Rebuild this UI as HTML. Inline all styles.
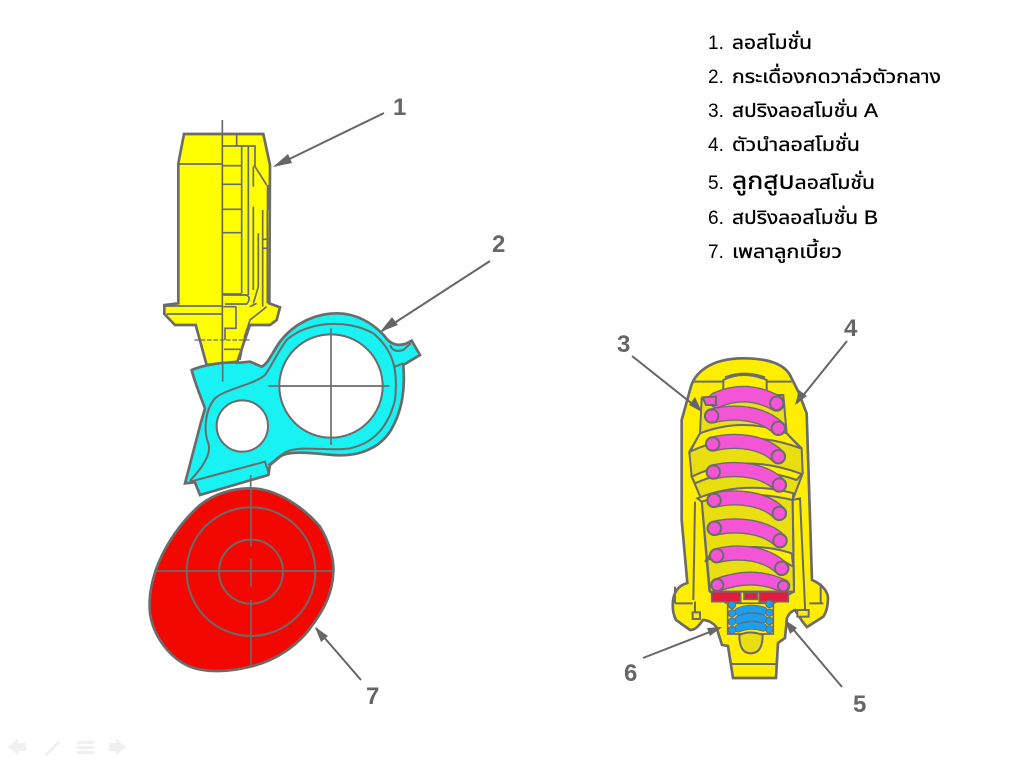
<!DOCTYPE html>
<html><head><meta charset="utf-8"><style>
html,body{margin:0;padding:0;background:#fff;width:1024px;height:768px;overflow:hidden}
svg{display:block}
.t{font-family:"Liberation Sans","Noto Sans Thai","Loma","Garuda","DejaVu Sans",sans-serif;font-size:19px;fill:#000;stroke:#000;stroke-width:.3px}
.d{font-family:"Liberation Sans",sans-serif;font-size:19px;fill:#000}
.n{font-family:"Liberation Sans",sans-serif;font-size:24px;font-weight:bold;fill:#666}
</style></head><body>
<svg width="1024" height="768" viewBox="0 0 1024 768" xmlns="http://www.w3.org/2000/svg">
<rect width="1024" height="768" fill="#fff"/>

<!-- Lifter -->
<g transform="translate(130,90) scale(.33333)" fill="none" stroke="#6b6b6b" stroke-width="6">
<path fill="#ffff00" stroke-width="8" d="M162,132 L400,132 L420,225 L418,640 L450,652 L440,690 L420,705 L360,705 L322,815 L230,825 L197,705 L135,705 L103,672 L103,645 L145,640 L145,220 Z"/>
<path stroke-width="5" d="M277,90 V850 M148,222 H277 M105,648 H275 M110,672 H275 M277,168 H375 V230 M320,135 V168 M277,227 H335 M277,283 H335 M277,358 H335 M277,428 H335 M277,612 H335 M372,225 L410,285 M335,170 V610 M355,170 V615 M370,230 V290 M370,350 V600 M385,430 V590 L370,640 M398,360 V650 M412,360 V640 M398,448 H415 M398,475 H415 M280,615 H350 Q365,625 350,642 H285 M318,650 V715 H285 V750 M360,650 L380,640 M410,650 L360,690 L345,735 L330,810 M280,650 H318 M282,778 H330"/>
<path stroke-width="4" stroke-dasharray="14 5" d="M193,750 H360"/>
<path stroke-width="10" d="M415,285 V360"/>
</g>

<!-- Rocker -->
<g transform="translate(140,320) scale(.33333)" stroke="#6b6b6b" stroke-width="6" fill="none">
<path fill="#19f2f2" stroke-width="8" d="M135,490 L182,310 L195,265 C180,225 165,190 155,150 C190,135 250,125 300,128 L330,125 L365,140 C385,130 395,100 420,65 C470,0 540,-20 590,-20 C650,-20 700,10 735,50 Q760,85 800,70 L815,62 L840,105 L790,135 C795,200 790,270 750,335 C710,395 640,410 580,405 C520,400 450,390 420,410 L390,435 L385,465 L180,525 L165,487 Z"/>
<circle cx="573" cy="198" r="155" fill="#fff"/>
<circle cx="307" cy="318" r="77" fill="#fff"/>
<path stroke-width="6" d="M150,482 C190,440 215,400 205,370 C190,330 195,270 225,235 C260,205 340,195 375,165 C400,130 410,100 440,60 C500,5 620,-5 700,40 C760,90 775,150 765,240 C745,320 700,370 630,385 C560,395 490,375 440,395 C420,405 400,425 385,435 M150,485 L375,425 L388,465 M750,75 Q760,100 790,90 L812,70 M765,140 L790,130"/>
<path stroke-width="5" d="M385,198 H748 M573,25 V375 M248,130 V185"/>
<path stroke-width="5" d="M332,465 V505"/>
</g>

<!-- Cam -->
<g transform="translate(140,320) scale(.33333)" stroke="#6b6b6b" fill="none">
<path fill="#f20800" stroke-width="8" d="M330,505 C400,505 480,550 540,620 C570,670 582,720 580,755 C578,810 560,860 510,925 C470,980 400,1025 330,1040 C270,1055 200,1060 150,1040 C90,1015 40,950 30,880 C25,830 35,780 55,730 C85,660 130,600 180,555 C225,520 280,505 330,505 Z"/>
<circle cx="333" cy="755" r="193" stroke-width="6"/>
<circle cx="333" cy="755" r="96" stroke-width="6"/>
<path stroke-width="5" d="M45,753 H580 M333,505 V680 M333,715 V800 M333,840 V1038"/>
</g>

<!-- Spring assembly -->
<g transform="translate(610,320) scale(.33333)" stroke="#6b6b6b" stroke-width="6" fill="none">
<path fill="#ffee00" stroke-width="8" d="M400,115 C470,115 520,130 540,165 L565,215 L590,280 L606,780 C630,790 654,810 654,835 C654,860 650,875 640,890 L591,921 C575,905 565,885 555,870 C540,875 535,885 531,894 L525,954 L504,969 L498,1074 L369,1074 L354,978 L336,975 L319,921 C310,910 295,900 279,900 C265,920 255,930 240,930 L198,900 C188,880 186,860 190,835 C195,810 210,795 232,789 L215,600 L215,300 L240,210 C250,160 300,115 400,115 Z"/>
<path fill="#e9de10" d="M275,235 L320,225 L520,225 L530,340 L575,385 L578,460 L548,540 L552,815 L300,815 L275,540 L245,470 L238,395 L270,340 Z"/>
<path fill="#ffee00" d="M340,215 V180 Q400,150 470,180 V215 Q400,190 340,215 Z"/>
<path d="M248,185 H340 M470,185 H545 M345,172 Q400,150 465,172"/>
<path fill="#ffee00" d="M245,470 Q400,395 575,462 L560,480 Q400,425 255,490 Z"/>
<path fill="#ffee00" d="M262,535 Q400,480 550,520 L548,540 Q400,505 275,545 Z"/>
<path fill="#ffee00" d="M240,395 Q400,320 572,385 L530,340 Q400,290 270,340 Z"/>
<path fill="#ffee00" d="M285,725 Q400,650 550,740 L545,700 Q420,660 300,705 Z"/>
<path d="M255,545 L250,840 M298,815 L275,545 M552,815 L548,540 L570,535 L585,860 M248,850 H195 M598,850 H640 M195,800 V850 M632,790 V850 M255,845 V880 M585,850 V885 M300,815 L350,850 M552,815 L490,850"/>
<rect x="248" y="877" width="22" height="20" fill="#ffee00"/><rect x="562" y="870" width="34" height="20" fill="#ffee00"/>
<!-- coils -->
<g stroke-linecap="round" fill="none">
<path stroke="#6b6b6b" stroke-width="50" d="M320,240 Q410,200 500,250"/><path stroke="#f455d6" stroke-width="42" d="M320,240 Q410,200 500,250"/>
<path stroke="#6b6b6b" stroke-width="46" d="M305,288 C380,270 460,280 505,325"/><path stroke="#f455d6" stroke-width="38" d="M305,288 C380,270 460,280 505,325"/>
<path stroke="#6b6b6b" stroke-width="46" d="M308,372 C380,355 460,365 505,410"/><path stroke="#f455d6" stroke-width="38" d="M308,372 C380,355 460,365 505,410"/>
<path stroke="#6b6b6b" stroke-width="46" d="M310,456 C380,440 465,450 508,495"/><path stroke="#f455d6" stroke-width="38" d="M310,456 C380,440 465,450 508,495"/>
<path stroke="#6b6b6b" stroke-width="46" d="M312,541 C380,525 465,535 508,580"/><path stroke="#f455d6" stroke-width="38" d="M312,541 C380,525 465,535 508,580"/>
<path stroke="#6b6b6b" stroke-width="46" d="M313,625 C380,610 465,618 510,662"/><path stroke="#f455d6" stroke-width="38" d="M313,625 C380,610 465,618 510,662"/>
<path stroke="#6b6b6b" stroke-width="46" d="M320,707 C390,690 470,700 515,745"/><path stroke="#f455d6" stroke-width="38" d="M320,707 C390,690 470,700 515,745"/>
<path stroke="#6b6b6b" stroke-width="42" d="M322,795 Q430,755 520,798"/><path stroke="#f455d6" stroke-width="34" d="M322,795 Q430,755 520,798"/>
</g>
<path fill="#f455d6" d="M278,232 L318,230 V255 H288 Z"/>
<g fill="#f455d6">
<circle cx="500" cy="250" r="20"/><circle cx="305" cy="288" r="20"/><circle cx="505" cy="325" r="20"/><circle cx="308" cy="372" r="20"/><circle cx="505" cy="410" r="20"/><circle cx="310" cy="456" r="20"/><circle cx="508" cy="495" r="20"/><circle cx="312" cy="541" r="20"/><circle cx="508" cy="580" r="20"/><circle cx="313" cy="625" r="20"/><circle cx="510" cy="662" r="20"/><circle cx="320" cy="707" r="20"/><circle cx="515" cy="745" r="20"/><circle cx="322" cy="795" r="18"/><circle cx="520" cy="798" r="16"/>
</g>
<!-- piston -->
<path fill="#e31b3f" d="M305,815 H392 V845 H305 Z M402,818 H442 V838 H402 Z M448,815 H535 V845 H448 Z" stroke-width="5"/>
<!-- small spring -->
<path fill="#ffee00" d="M353,850 H490 V942 H353 Z" stroke-width="5"/>
<path fill="#e9de10" d="M388,945 Q388,1000 422,1000 Q458,1000 458,945 Q420,930 388,945 Z"/>
<g stroke-linecap="round">
<path stroke="#6b6b6b" stroke-width="25" d="M385,875 Q420,860 460,872 M385,900 Q420,885 460,897 M385,925 Q420,910 460,922"/>
<path stroke="#1c9ff0" stroke-width="20" d="M385,875 Q420,860 460,872 M385,900 Q420,885 460,897 M385,925 Q420,910 460,922"/>
</g>
<g fill="#1c9ff0" stroke-width="3">
<circle cx="366" cy="855" r="11"/><circle cx="366" cy="880" r="11"/><circle cx="366" cy="905" r="11"/><circle cx="366" cy="930" r="11"/><circle cx="478" cy="852" r="11"/><circle cx="478" cy="878" r="11"/><circle cx="478" cy="903" r="11"/><circle cx="478" cy="928" r="11"/>
</g>
<path d="M360,1032 H498"/>
</g>

<!-- Leader lines -->
<g stroke="#666" stroke-width="2" fill="none">
<path d="M384,113 L275,166 M490,261 L382,331 M632,356 L700,410 M847,341 L797,403 M842,687 L787,622 M643,658 L720,628 M361,680 L316,628"/>
</g>
<g fill="#666">
<path d="M273,167 L288,154 L292,163 Z"/>
<path d="M380,332 L392,317 L398,325 Z"/>
<path d="M702,412 L689,405 L695,397 Z"/>
<path d="M795,405 L799,390 L807,396 Z"/>
<path d="M785,620 L797,628 L790,634 Z"/>
<path d="M722,627 L710,636 L707,628 Z"/>
<path d="M315,627 L328,636 L321,642 Z"/>
</g>
<g>
<text class="n" x="393" y="115">1</text>
<text class="n" x="492" y="252">2</text>
<text class="n" x="617" y="352">3</text>
<text class="n" x="844" y="336">4</text>
<text class="n" x="853" y="712">5</text>
<text class="n" x="624" y="681">6</text>
<text class="n" x="366" y="704">7</text>
</g>

<!-- Text list -->
<text class="d" x="708" y="49">1.</text><text class="t" x="732" y="49" textLength="80" lengthAdjust="spacingAndGlyphs">ลอสโมชั่น</text>
<text class="d" x="708" y="83">2.</text><text class="t" x="732" y="83" textLength="209" lengthAdjust="spacingAndGlyphs">กระเดื่องกดวาล์วตัวกลาง</text>
<text class="d" x="708" y="117">3.</text><text class="t" x="732" y="117" textLength="146" lengthAdjust="spacingAndGlyphs">สปริงลอสโมชั่น A</text>
<text class="d" x="708" y="151">4.</text><text class="t" x="732" y="151" textLength="128" lengthAdjust="spacingAndGlyphs">ตัวนำลอสโมชั่น</text>
<text class="d" x="708" y="189">5.</text><text class="t" x="732" y="189" textLength="143" lengthAdjust="spacingAndGlyphs"><tspan style="font-size:24px">ลูกสูบ</tspan>ลอสโมชั่น</text>
<text class="d" x="708" y="224">6.</text><text class="t" x="732" y="224" textLength="146" lengthAdjust="spacingAndGlyphs">สปริงลอสโมชั่น B</text>
<text class="d" x="708" y="258">7.</text><text class="t" x="732" y="258" textLength="110" lengthAdjust="spacingAndGlyphs">เพลาลูกเบี้ยว</text>

<!-- Nav icons -->
<g fill="#f0f0f0">
<path d="M8,747 L18,739 V743 H26 V751 H18 V755 Z"/>
<path d="M44,755 L58,741 L60,743 L47,756 Z"/>
<path d="M77,741 H94 V744 H77 Z M77,746 H94 V749 H77 Z M77,751 H94 V754 H77 Z"/>
<path d="M126,747 L116,739 V743 H109 V751 H116 V755 Z"/>
</g>
</svg>
</body></html>
